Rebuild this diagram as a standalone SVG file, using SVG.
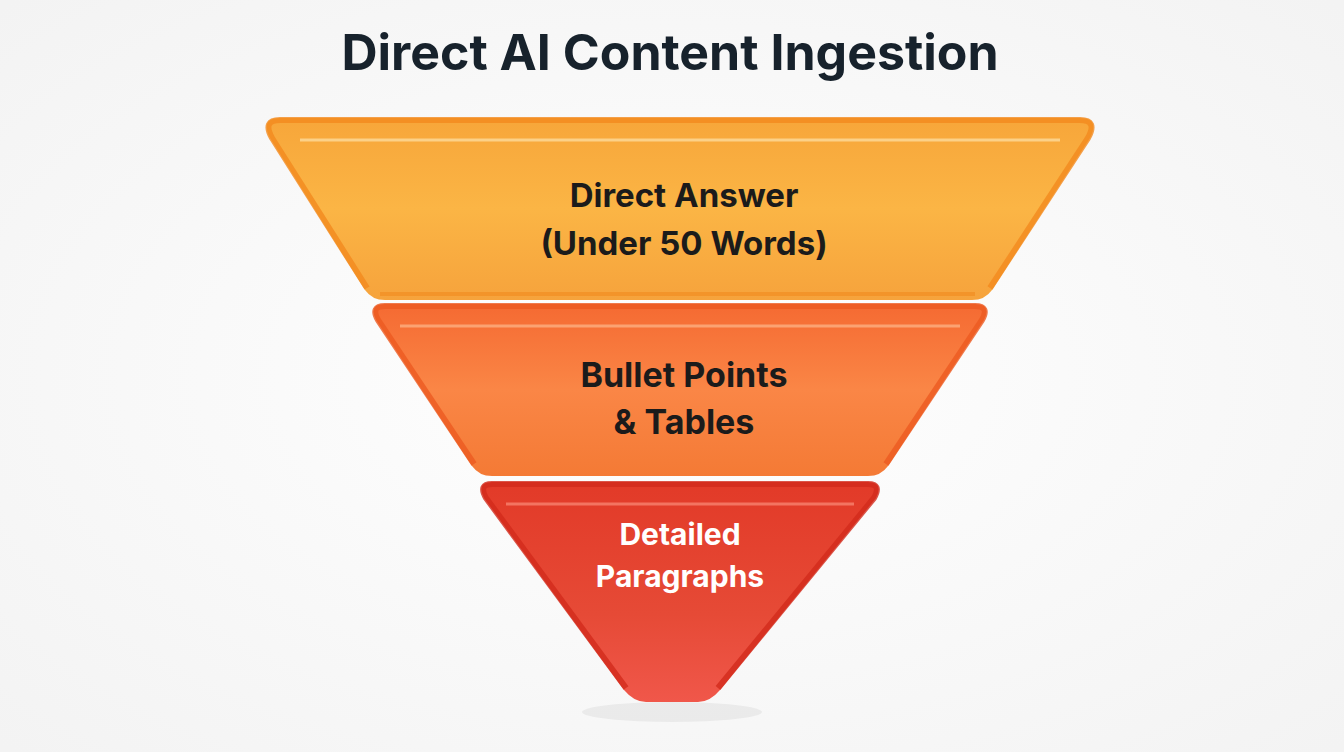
<svg xmlns="http://www.w3.org/2000/svg" width="1344" height="752" viewBox="0 0 1344 752">
<style>
.t{font-family:Inter,"Liberation Sans",sans-serif;font-weight:700;text-anchor:middle}
.dark{fill:#1b1b1b}
.light{fill:#ffffff}
.edge{fill:none;stroke-linejoin:round;stroke-width:6}
</style>
<defs>
<linearGradient id="g1" x1="0" y1="0" x2="0" y2="1"><stop offset="0" stop-color="#f7a63a"/><stop offset="0.5" stop-color="#fbb545"/><stop offset="1" stop-color="#f6a33c"/></linearGradient>
<linearGradient id="g2" x1="0" y1="0" x2="0" y2="1"><stop offset="0" stop-color="#f56a32"/><stop offset="0.5" stop-color="#fa8646"/><stop offset="1" stop-color="#f47a35"/></linearGradient>
<linearGradient id="g3" x1="0" y1="0" x2="0" y2="1"><stop offset="0" stop-color="#e23a28"/><stop offset="0.6" stop-color="#e64a36"/><stop offset="1" stop-color="#f0574a"/></linearGradient>
<radialGradient id="bg" cx="0.5" cy="0.5" r="0.7"><stop offset="0" stop-color="#ffffff"/><stop offset="1" stop-color="#f3f3f3"/></radialGradient>
</defs>
<rect width="1344" height="752" fill="url(#bg)"/>
<ellipse cx="672" cy="712" rx="90" ry="10" fill="#000" opacity="0.05"/>
<text class="t" x="670" y="70" font-size="50" fill="#17222c">Direct AI Content Ingestion</text>
<g id="tier1">
<path d="M280,118 H1080 Q1100,118 1090,138 L992,290 Q985,300 972,300 H385 Q372,300 365,290 L270,138 Q260,118 280,118 Z" fill="url(#g1)"/>
<path class="edge" d="M280,120 H1080 Q1098,120 1088,138 L990,288" stroke="#f28a1e" opacity="0.8"/>
<path class="edge" d="M280,120 Q262,120 272,138 L367,288" stroke="#f28a1e" opacity="0.8"/>
<path d="M300,140 H1060" stroke="#ffe2a8" stroke-width="3" opacity="0.7"/>
<path d="M380,294 H975" stroke="#f28a1e" stroke-width="4" opacity="0.6"/>
<text class="t dark" x="684" y="207" font-size="33">Direct Answer</text>
<text class="t dark" x="684" y="255" font-size="33">(Under 50 Words)</text>
</g>
<g id="tier2">
<path d="M385,304 H975 Q992,304 984,320 L888,466 Q881,476 868,476 H492 Q479,476 472,466 L376,320 Q368,304 385,304 Z" fill="url(#g2)"/>
<path class="edge" d="M385,306 H975 Q990,306 982,320 L886,464 M385,306 Q370,306 378,320 L474,464" stroke="#ec5a20" opacity="0.8"/>
<path d="M400,326 H960" stroke="#ffc39a" stroke-width="3" opacity="0.6"/>
<text class="t dark" x="684" y="387" font-size="34">Bullet Points</text>
<text class="t dark" x="684" y="434" font-size="34">&amp; Tables</text>
</g>
<g id="tier3">
<path d="M492,482 H868 Q884,482 876,498 L720,690 Q710,702 698,702 H646 Q634,702 624,690 L484,498 Q476,482 492,482 Z" fill="url(#g3)"/>
<path class="edge" d="M492,484 H868 Q882,484 874,498 L718,688 M492,484 Q478,484 486,498 L626,688" stroke="#d22a1c" opacity="0.8"/>
<path d="M506,504 H854" stroke="#ff9a86" stroke-width="3" opacity="0.6"/>
<text class="t light" x="680" y="545" font-size="30">Detailed</text>
<text class="t light" x="680" y="587" font-size="30">Paragraphs</text>
</g>
<g id="connectors"/>
</svg>
